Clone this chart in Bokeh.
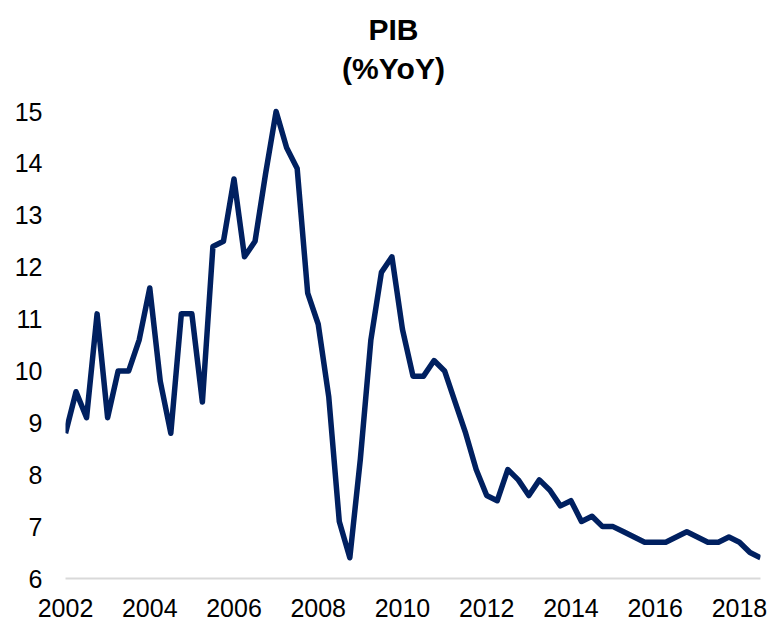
from bokeh.plotting import figure
from bokeh.models import Range1d, FixedTicker, Label
from bokeh.embed import file_html
from bokeh.resources import INLINE

# Quarterly data: 2002Q1 .. 2018Q3
start_year = 2002
gdp_yoy = [
    8.8, 9.6, 9.1, 11.1,      # 2002
    9.1, 10.0, 10.0, 10.6,    # 2003
    11.6, 9.8, 8.8, 11.1,     # 2004
    11.1, 9.4, 12.4, 12.5,    # 2005
    13.7, 12.2, 12.5, 13.8,   # 2006
    15.0, 14.3, 13.9, 11.5,   # 2007
    10.9, 9.5, 7.1, 6.4,      # 2008
    8.3, 10.6, 11.9, 12.2,    # 2009
    10.8, 9.9, 9.9, 10.2,     # 2010
    10.0, 9.4, 8.8, 8.1,      # 2011
    7.6, 7.5, 8.1, 7.9,       # 2012
    7.6, 7.9, 7.7, 7.4,       # 2013
    7.5, 7.1, 7.2, 7.0,       # 2014
    7.0, 6.9, 6.8, 6.7,       # 2015
    6.7, 6.7, 6.8, 6.9,       # 2016
    6.8, 6.7, 6.7, 6.8,       # 2017
    6.7, 6.5, 6.4,            # 2018
]
quarter_labels = [f"{start_year + i // 4}Q{i % 4 + 1}" for i in range(len(gdp_yoy))]
x_ticks = [2002, 2004, 2006, 2008, 2010, 2012, 2014, 2016, 2018]
y_ticks = [6, 7, 8, 9, 10, 11, 12, 13, 14, 15]
title_lines = ["PIB", "(%YoY)"]

x_vals = [int(s[:4]) + (int(s[-1]) - 1) / 4 for s in quarter_labels]

# plot frame: x 65..760 px, y: value 15 at 111 px, value 6 at 578 px (frame top = 0 px)
px_per_unit = (578 - 111) / 9
y_top = 15 + 111 / px_per_unit

p = figure(width=769, height=621, output_backend="svg", toolbar_location=None,
           title=None,
           x_range=Range1d(x_vals[0], x_vals[-1]), y_range=Range1d(6, y_top),
           min_border_left=65, min_border_right=9, min_border_top=0,
           min_border_bottom=43)
p.outline_line_color = None
p.xgrid.visible = False
p.ygrid.visible = False
p.background_fill_color = "white"
p.border_fill_color = "white"

p.line(x_vals, gdp_yoy, line_color="#002060", line_width=5.5, line_join="round")

font = "Liberation Sans"
p.xaxis.ticker = FixedTicker(ticks=x_ticks)
p.yaxis.ticker = FixedTicker(ticks=y_ticks)
for ax in (p.xaxis, p.yaxis):
    ax.major_tick_line_color = None
    ax.minor_tick_line_color = None
    ax.major_tick_out = 0
    ax.major_tick_in = 0
    ax.major_label_text_font = font
    ax.major_label_text_font_size = "25px"
    ax.major_label_text_color = "#000000"
p.yaxis.axis_line_color = None
p.yaxis.major_label_standoff = 23
p.xaxis.axis_line_color = "#d9d9d9"
p.xaxis.axis_line_width = 2
p.xaxis.major_label_text_line_height = 0.75
p.xaxis.major_label_standoff = 20

# Title: two centred bold lines
title_x = 2002 + (393 - 65) / ((760 - 65) / (x_vals[-1] - x_vals[0]))
for txt, base_px in zip(title_lines, [28.7, 68.0]):
    p.add_layout(Label(x=title_x, y=y_top - base_px / px_per_unit, text=txt,
                       text_align="center", text_baseline="alphabetic",
                       text_font=font, text_font_size="30px",
                       text_font_style="bold", text_color="#000000"))

open("out.html", "w").write(file_html(p, INLINE))
